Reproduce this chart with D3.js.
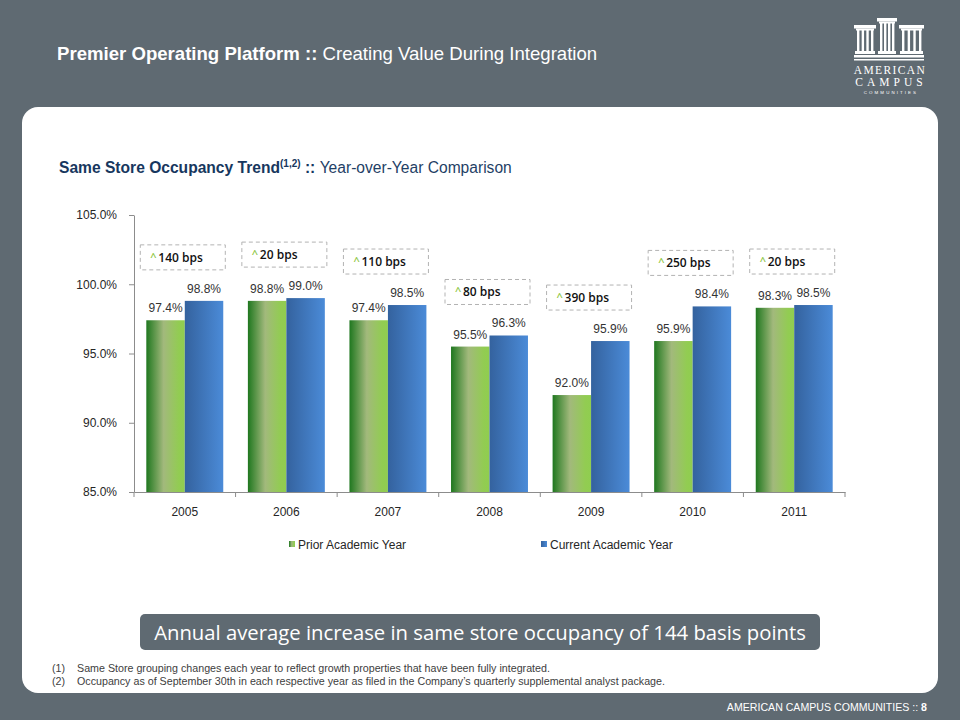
<!DOCTYPE html>
<html>
<head>
<meta charset="utf-8">
<script src="https://cdn.jsdelivr.net/npm/d3@7"></script>
<style>
  html, body { margin: 0; padding: 0; background: #5f6a72; }
  svg { display: block; }
</style>
</head>
<body>
<svg id="chart" width="960" height="720"></svg>
<script>
// ---- data ----
const years = ["2005", "2006", "2007", "2008", "2009", "2010", "2011"];
const seriesNames = ["Prior Academic Year", "Current Academic Year"];
const priorValues = [97.4, 98.8, 97.4, 95.5, 92.0, 95.9, 98.3];
const currentValues = [98.8, 99.0, 98.5, 96.3, 95.9, 98.4, 98.5];
const bpsLabels = ["140 bps", "20 bps", "110 bps", "80 bps", "390 bps", "250 bps", "20 bps"];
const yTicks = [85, 90, 95, 100, 105];

const svg = d3.select("#chart");
const defs = svg.append("defs");

// gradients
const gG = defs.append("linearGradient").attr("id", "gGreen").attr("x1", "0").attr("x2", "1").attr("y1", "0").attr("y2", "0");
gG.append("stop").attr("offset", "0%").attr("stop-color", "#1f771f");
gG.append("stop").attr("offset", "45%").attr("stop-color", "#a2b97c");
gG.append("stop").attr("offset", "85%").attr("stop-color", "#92cc52");
gG.append("stop").attr("offset", "100%").attr("stop-color", "#90cd50");
const gB = defs.append("linearGradient").attr("id", "gBlue").attr("x1", "0").attr("x2", "1").attr("y1", "0").attr("y2", "0");
gB.append("stop").attr("offset", "0%").attr("stop-color", "#34629e");
gB.append("stop").attr("offset", "100%").attr("stop-color", "#4b8bd8");
const fills = ["url(#gGreen)", "url(#gBlue)"];

// background & panel
svg.append("rect").attr("width", 960).attr("height", 720).attr("fill", "#5f6a72");
svg.append("rect").attr("x", 22).attr("y", 107).attr("width", 916).attr("height", 586)
  .attr("rx", 16).attr("ry", 16).attr("fill", "#ffffff");

// title
const title = svg.append("text").attr("x", 57).attr("y", 60)
  .attr("font-family", "Liberation Sans, Arial, sans-serif").attr("font-size", 18.6).attr("fill", "#ffffff");
title.append("tspan").attr("font-weight", "bold").text("Premier Operating Platform :: ");
title.append("tspan").text("Creating Value During Integration");

// logo
const logo = svg.append("g").attr("transform", "translate(852,17)").attr("fill", "#ffffff");
const cols = [{x: 3, top: 8, w: 20}, {x: 26, top: 1, w: 18}, {x: 48, top: 8, w: 23}];
cols.forEach(c => {
  logo.append("rect").attr("x", c.x - 1).attr("y", c.top).attr("width", c.w + 2).attr("height", 3.5);
  logo.append("rect").attr("x", c.x + 1).attr("y", c.top + 3.5).attr("width", c.w - 2).attr("height", 2);
  for (let i = 0; i < 4; i++) {
    logo.append("rect").attr("x", c.x + 2 + i * (c.w - 6) / 3).attr("y", c.top + 5)
      .attr("width", 2.4).attr("height", 30 - c.top);
  }
  logo.append("rect").attr("x", c.x).attr("y", 34).attr("width", c.w).attr("height", 3);
});
logo.append("rect").attr("x", 2).attr("y", 38).attr("width", 70).attr("height", 2.5);
logo.append("rect").attr("x", 2).attr("y", 42).attr("width", 70).attr("height", 1.5);
logo.append("text").attr("x", 38).attr("y", 57).attr("text-anchor", "middle")
  .attr("font-family", "Liberation Serif, serif").attr("font-size", 11.5).attr("letter-spacing", 1.4).text("AMERICAN");
logo.append("text").attr("x", 39).attr("y", 69).attr("text-anchor", "middle")
  .attr("font-family", "Liberation Serif, serif").attr("font-size", 11.5).attr("letter-spacing", 4).text("CAMPUS");
logo.append("text").attr("x", 39).attr("y", 77).attr("text-anchor", "middle")
  .attr("font-family", "Liberation Sans, sans-serif").attr("font-size", 4.4).attr("letter-spacing", 2.1).text("COMMUNITIES");

// subtitle
const sub = svg.append("text").attr("x", 59).attr("y", 173)
  .attr("font-family", "Liberation Sans, Arial, sans-serif").attr("font-size", 15.6).attr("fill", "#17375e");
sub.append("tspan").attr("font-weight", "bold").text("Same Store Occupancy Trend");
sub.append("tspan").attr("font-weight", "bold").attr("font-size", 10).attr("dy", -6).text("(1,2)");
sub.append("tspan").attr("font-weight", "bold").attr("dy", 6).text(" :: ");
sub.append("tspan").attr("fill", "#1f3f66").text("Year-over-Year Comparison");

// scales
const x0 = d3.scaleBand().domain(years).range([134, 845]).paddingInner(0).paddingOuter(0);
const x1 = d3.scaleBand().domain(seriesNames).range([0, x0.bandwidth()]).paddingInner(0).paddingOuter(0.32);
const y = d3.scaleLinear().domain([85, 105]).range([492, 215]);

const axisColor = "#8c8c8c";
const fontAx = "Liberation Sans, Arial, sans-serif";

// y axis
const yAxis = svg.append("g").attr("transform", "translate(134,0)")
  .call(d3.axisLeft(y).tickValues(yTicks).tickSize(5).tickSizeOuter(0).tickPadding(12)
    .tickFormat(d => d3.format(".1f")(d) + "%"));
yAxis.select(".domain").attr("stroke", axisColor);
yAxis.selectAll(".tick line").attr("stroke", axisColor);
yAxis.selectAll(".tick text").attr("font-family", fontAx).attr("font-size", 12).attr("fill", "#262626");

// bars
const data = years.map((yr, i) => ({year: yr, vals: [priorValues[i], currentValues[i]], bps: bpsLabels[i]}));
const groups = svg.append("g").selectAll("g").data(data).join("g")
  .attr("transform", d => `translate(${x0(d.year)},0)`);
groups.selectAll("rect").data(d => d.vals.map((v, k) => ({v, k})))
  .join("rect")
  .attr("x", d => x1(seriesNames[d.k]))
  .attr("width", x1.bandwidth())
  .attr("y", d => y(d.v))
  .attr("height", d => y(85) - y(d.v))
  .attr("fill", d => fills[d.k]);
groups.selectAll("text.val").data(d => d.vals.map((v, k) => ({v, k})))
  .join("text").attr("class", "val")
  .attr("x", d => x1(seriesNames[d.k]) + x1.bandwidth() / 2)
  .attr("y", d => y(d.v) - 8)
  .attr("text-anchor", "middle")
  .attr("font-family", fontAx).attr("font-size", 12).attr("fill", "#333333")
  .text(d => d3.format(".1f")(d.v) + "%");

// x axis
const xAxis = svg.append("g").attr("transform", "translate(0,492)")
  .call(d3.axisBottom(x0).tickSize(0).tickSizeOuter(0).tickPadding(15));
xAxis.select(".domain").attr("stroke", axisColor);
xAxis.selectAll(".tick text").attr("font-family", fontAx).attr("font-size", 12).attr("fill", "#262626");
const bounds = years.map(yr => x0(yr)).concat([x0(years[years.length - 1]) + x0.bandwidth()]);
svg.append("g").selectAll("line").data(bounds).join("line")
  .attr("x1", d => d).attr("x2", d => d).attr("y1", 492).attr("y2", 497)
  .attr("stroke", axisColor);

// bps boxes
const boxW = 85, boxH = 25;
const boxes = svg.append("g").selectAll("g").data(data).join("g")
  .attr("transform", d => `translate(${x0(d.year) + x0.bandwidth() / 2 - boxW / 2 - 2},${y(d3.max(d.vals)) - 56})`);
boxes.append("rect").attr("width", boxW).attr("height", boxH)
  .attr("fill", "#ffffff").attr("stroke", "#b3b3b3").attr("stroke-dasharray", "4,3").attr("stroke-width", 1);
boxes.append("text").attr("x", 10).attr("y", 16)
  .attr("font-family", "Open Sans, sans-serif").attr("font-size", 11).attr("font-weight", 600)
  .attr("fill", "#8dc63f").text("^");
boxes.append("text").attr("x", 18).attr("y", 17)
  .attr("font-family", "Open Sans, sans-serif").attr("font-size", 12).attr("font-weight", 600)
  .attr("fill", "#111111").text(d => d.bps);

// legend
const legendX = [289, 541];
const leg = svg.append("g").selectAll("g").data(seriesNames).join("g")
  .attr("transform", (d, i) => `translate(${legendX[i]},541)`);
leg.append("rect").attr("width", 6).attr("height", 6).attr("fill", (d, i) => fills[i]);
leg.append("text").attr("x", 9).attr("y", 8)
  .attr("font-family", fontAx).attr("font-size", 12).attr("fill", "#262626").text(d => d);

// banner
svg.append("rect").attr("x", 140).attr("y", 614).attr("width", 680).attr("height", 36)
  .attr("rx", 5).attr("fill", "#5f6a72");
svg.append("text").attr("x", 480).attr("y", 640).attr("text-anchor", "middle")
  .attr("font-family", "Open Sans, sans-serif").attr("font-size", 20.3).attr("fill", "#ffffff")
  .text("Annual average increase in same store occupancy of 144 basis points");

// footnotes
const notes = [["(1)", "Same Store grouping changes each year to reflect growth properties that have been fully integrated."],
               ["(2)", "Occupancy as of September 30th in each respective year as filed in the Company\u2019s quarterly supplemental analyst package."]];
const nt = svg.append("g").selectAll("g").data(notes).join("g")
  .attr("transform", (d, i) => `translate(0,${672 + i * 13})`);
nt.append("text").attr("x", 52).attr("font-family", fontAx).attr("font-size", 10.7).attr("fill", "#404040").text(d => d[0]);
nt.append("text").attr("x", 77).attr("font-family", fontAx).attr("font-size", 10.7).attr("fill", "#404040").text(d => d[1]);

// footer
const ft = svg.append("text").attr("x", 927).attr("y", 711).attr("text-anchor", "end")
  .attr("font-family", fontAx).attr("font-size", 10.6).attr("fill", "#ffffff");
ft.append("tspan").text("AMERICAN CAMPUS COMMUNITIES :: ");
ft.append("tspan").attr("font-weight", "bold").text("8");
</script>
</body>
</html>
